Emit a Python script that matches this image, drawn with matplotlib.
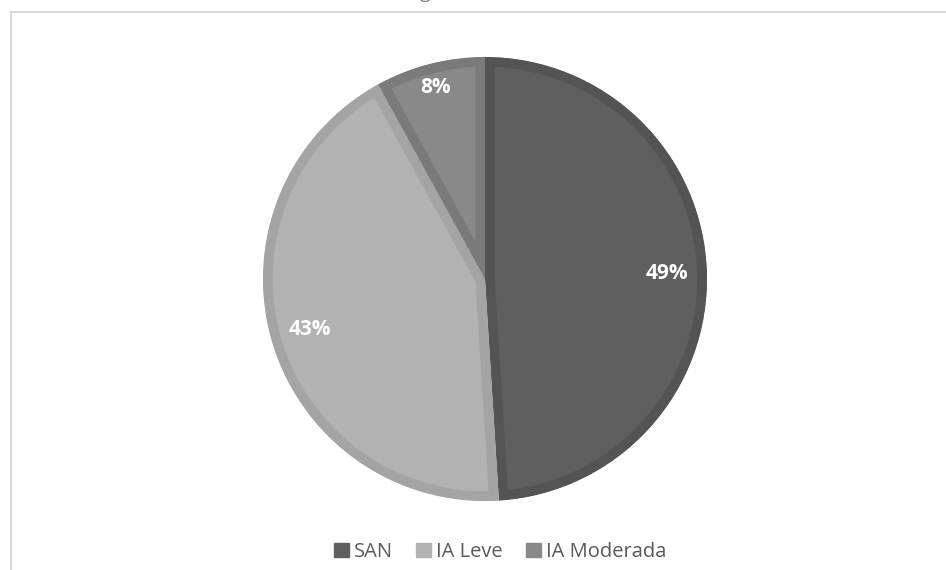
import matplotlib.pyplot as plt
from matplotlib.patches import Rectangle

plt.rcParams["font.family"] = ["Open Sans", "DejaVu Sans"]

# Data
categories = ["SAN", "IA Leve", "IA Moderada"]
values = [49, 43, 8]
fill_colors = ["#5f5f5f", "#b2b2b2", "#898989"]
edge_colors = ["#545454", "#a4a4a4", "#7a7a7a"]
title = "Hogares rurales, n=37"

fig = plt.figure(figsize=(9.46, 5.70), dpi=100)

# chart area frame (partly outside the picture)
fig.patches.append(Rectangle((11 / 946, -0.05), 1.0, (570 - 12) / 570 + 0.05,
                             transform=fig.transFigure, fill=False,
                             edgecolor="#d9d9d9", linewidth=1.5))

# title, mostly cut off at the top as in the source
fig.text(494 / 946, 1 + 7 / 570, title, ha="center", va="center",
         fontsize=14, color="#808080")

cx, cy, r = 485, 279, 222
ax = fig.add_axes([(cx - r) / 946, (570 - cy - r) / 570, 2 * r / 946, 2 * r / 570])

wedges, texts, autotexts = ax.pie(
    values,
    colors=fill_colors,
    startangle=90,
    counterclock=False,
    autopct="%1.0f%%",
    pctdistance=0.82,
    textprops=dict(color="white", fontsize=15, fontweight="bold"),
)

# inner border for each slice (edge clipped to the slice itself)
for w, ec in zip(wedges, edge_colors):
    w.set_edgecolor(ec)
    w.set_linewidth(14)
    w.set_clip_path(w)
    w.set_clip_on(True)

# small slice label sits a bit further out
x, y = autotexts[2].get_position()
autotexts[2].set_position((x * 0.89 / 0.82, y * 0.89 / 0.82))

ax.set_xlim(-1, 1)
ax.set_ylim(-1, 1)
ax.set_aspect("equal")

handles = [Rectangle((0, 0), 1, 1, color=c) for c in fill_colors]
fig.legend(handles, categories, loc="center", bbox_to_anchor=(500 / 946, 1 - 552 / 570),
           ncol=3, frameon=False, fontsize=14.5, labelcolor="#595959",
           handlelength=0.75, handleheight=0.75, handletextpad=0.25, columnspacing=1.15)

fig.savefig("out.png", dpi=100)
